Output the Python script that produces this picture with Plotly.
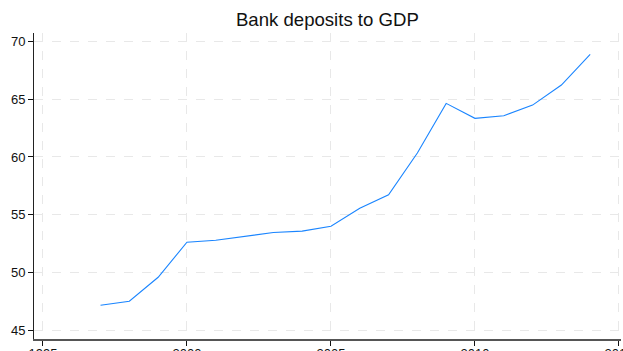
import plotly.graph_objects as go

years = list(range(1997, 2015))
deposits_gdp = [47.14, 47.5, 49.57, 52.61, 52.78, 53.1, 53.45, 53.57, 54.0,
                55.56, 56.72, 60.35, 64.65, 63.35, 63.58, 64.5, 66.24, 68.9]
x_ticks = [1995, 2000, 2005, 2010, 2015]
y_ticks = [45, 50, 55, 60, 65, 70]

fig = go.Figure()
fig.add_trace(go.Scatter(x=years, y=deposits_gdp, mode="lines",
                         line=dict(color="#1a85ff", width=1.1), showlegend=False))

fig.update_layout(
    width=623, height=351,
    paper_bgcolor="white", plot_bgcolor="white",
    margin=dict(l=34, r=2, t=33, b=12, autoexpand=False),
    font=dict(family="Liberation Sans, Arial, sans-serif", color="#111111"),
    title=dict(text="Bank deposits to GDP", x=0.5255, xanchor="center",
               y=1 - 19/351, yanchor="middle",
               font=dict(size=18.6, color="#111111")),
)
fig.update_xaxes(
    range=[1994.69, 2015.07], tickvals=x_ticks, ticktext=[str(v) for v in x_ticks],
    showgrid=True, gridcolor="#e8e8e8", griddash="dash", gridwidth=1,
    showline=True, linecolor="#555555", linewidth=1.6,
    ticks="outside", ticklen=5, tickcolor="#111111", tickwidth=1,
    tickfont=dict(size=13), zeroline=False, automargin=False,
    ticklabelstandoff=-3, ticklabeloverflow="allow",
)
fig.update_yaxes(
    range=[44.22, 70.75], tickvals=y_ticks,
    showgrid=True, gridcolor="#e8e8e8", griddash="dash", gridwidth=1,
    showline=True, linecolor="#222222", linewidth=1,
    ticks="outside", ticklen=5, tickcolor="#111111", tickwidth=1,
    tickfont=dict(size=13), zeroline=False, automargin=False,
)

fig.write_html(
    "out.html",
    config={"displayModeBar": False},
    post_script="document.body.style.margin='0';document.body.style.overflow='hidden';"
                "document.documentElement.style.overflow='hidden';",
)
